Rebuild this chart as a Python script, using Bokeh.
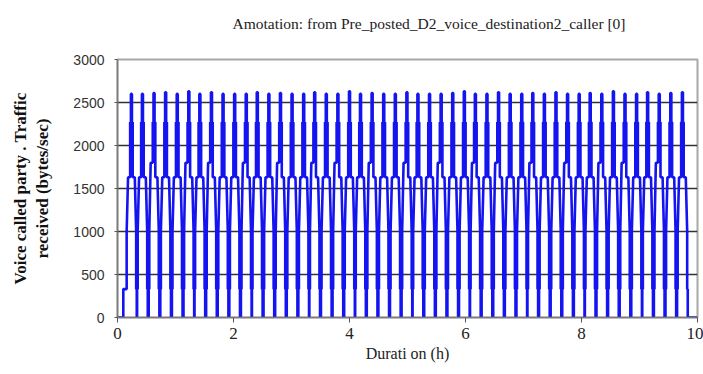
from bokeh.plotting import figure
from bokeh.embed import file_html
from bokeh.resources import INLINE
from bokeh.models import FixedTicker, ColumnDataSource

# ---- data ----
title_text = "Amotation: from Pre_posted_D2_voice_destination2_caller [0]"
x_label = "Durati on (h)"
y_label = "Voice called party . Traffic\nreceived (bytes/sec)"

# centre of each traffic burst (hours)
spike_times = [0.24, 0.43, 0.63, 0.83, 1.03, 1.23, 1.42, 1.62, 1.82, 2.02,
               2.22, 2.41, 2.61, 2.81, 3.01, 3.21, 3.40, 3.60, 3.80, 4.00,
               4.19, 4.39, 4.59, 4.79, 4.99, 5.18, 5.38, 5.58, 5.78, 5.98,
               6.17, 6.37, 6.57, 6.77, 6.97, 7.16, 7.36, 7.56, 7.76, 7.96,
               8.15, 8.35, 8.55, 8.75, 8.95, 9.14, 9.34, 9.54, 9.74]
# peak value of each burst (bytes/sec)
spike_peaks = [2600, 2600, 2610, 2620, 2600, 2630, 2600, 2620, 2600, 2600,
               2600, 2620, 2600, 2610, 2600, 2600, 2620, 2600, 2600, 2630,
               2600, 2610, 2600, 2600, 2620, 2600, 2600, 2600, 2610, 2630,
               2600, 2600, 2620, 2600, 2600, 2610, 2600, 2620, 2600, 2600,
               2610, 2600, 2630, 2600, 2600, 2620, 2600, 2610, 2620]
# bursts whose left shoulder sits higher (about 1800 instead of 1630)
shoulder_high = [2, 5, 7, 10, 13, 16, 18, 21, 24, 27, 30, 32, 35, 38, 41, 43, 46]

# levels inside each burst (bytes/sec)
level_low = 330
level_mid = 1000
level_shoulder = 1630
level_shoulder_high = 1800
level_upper = 2270

# time offsets of the steps of a burst, relative to its centre (hours)
off = {"a": -0.092, "b": -0.082, "c": -0.058, "d": -0.022, "e": -0.009,
       "f": 0.009, "g": 0.022, "h": 0.058, "i": 0.082, "j": 0.092}
start_rise = 0.10

xs = [0.0, start_rise]
ys = [0, 0]
for k, (s, pk) in enumerate(zip(spike_times, spike_peaks)):
    L = level_shoulder_high if k in shoulder_high else level_shoulder
    if k == 0:
        seq = [(start_rise, level_low)]
    else:
        seq = [(s + off["a"], 0), (s + off["a"], level_low)]
    seq += [(s + off["b"], level_low), (s + off["b"], level_mid),
            (s + off["c"], L), (s + off["d"], L),
            (s + off["d"], level_upper), (s + off["e"], level_upper),
            (s + off["e"], pk), (s + off["f"], pk),
            (s + off["f"], level_upper), (s + off["g"], level_upper),
            (s + off["g"], level_shoulder), (s + off["h"], level_shoulder),
            (s + off["i"], level_mid), (s + off["i"], level_low),
            (s + off["j"], level_low), (s + off["j"], 0)]
    for x, y in seq:
        xs.append(x)
        ys.append(y)
xs.append(10.0)
ys.append(0)

src = ColumnDataSource(dict(x=xs, y=ys))

SERIF = "'Liberation Serif', 'Times New Roman', serif"

p = figure(width=703, height=374, x_range=(0, 10), y_range=(0, 3000),
           output_backend="svg", toolbar_location=None,
           min_border_left=117, min_border_right=6,
           min_border_top=59, min_border_bottom=57)

# title on the first line; the blank second line reserves the gap above the frame
p.title.text = title_text + "\n "
p.title.align = "left"
p.title.offset = 115
p.title.vertical_align = "top"
p.title.text_font = SERIF
p.title.text_font_size = "15.5px"
p.title.text_font_style = "normal"
p.title.text_color = "#222222"
p.title.standoff = 17

p.line("x", "y", source=src, line_color="#1414f0", line_width=2.6)

p.outline_line_color = "#a8a8a8"
p.outline_line_width = 2

p.xgrid.grid_line_color = None
p.ygrid.grid_line_color = "#333333"
p.ygrid.grid_line_width = 1.3
p.ygrid.ticker = FixedTicker(ticks=[500, 1000, 1500, 2000, 2500])

p.xaxis.ticker = FixedTicker(ticks=[0, 2, 4, 6, 8, 10])
p.yaxis.ticker = FixedTicker(ticks=[0, 500, 1000, 1500, 2000, 2500, 3000])

for ax in (p.xaxis, p.yaxis):
    ax.axis_line_color = "#7a7a7a"
    ax.axis_line_width = 1.5
    ax.major_tick_line_color = "#555555"
    ax.minor_tick_line_color = None
    ax.major_tick_in = 0

p.xaxis.major_tick_out = 5
p.yaxis.major_tick_out = 3

p.xaxis.major_label_text_font = SERIF
p.xaxis.major_label_text_font_size = "17px"
p.xaxis.major_label_text_color = "#222222"
p.xaxis.major_label_standoff = 5
p.xaxis.axis_label = x_label
p.xaxis.axis_label_text_font = SERIF
p.xaxis.axis_label_text_font_size = "16px"
p.xaxis.axis_label_text_font_style = "normal"
p.xaxis.axis_label_text_color = "#222222"
p.xaxis.axis_label_standoff = 3

p.yaxis.major_label_text_font = "Liberation Sans"
p.yaxis.major_label_text_font_size = "14px"
p.yaxis.major_label_text_color = "#333333"
p.yaxis.major_label_standoff = 10
p.yaxis.axis_label = y_label
p.yaxis.axis_label_text_font = SERIF
p.yaxis.axis_label_text_font_size = "17px"
p.yaxis.axis_label_text_font_style = "bold"
p.yaxis.axis_label_text_color = "#111111"
p.yaxis.axis_label_standoff = 18

open("out.html", "w").write(file_html(p, INLINE))
